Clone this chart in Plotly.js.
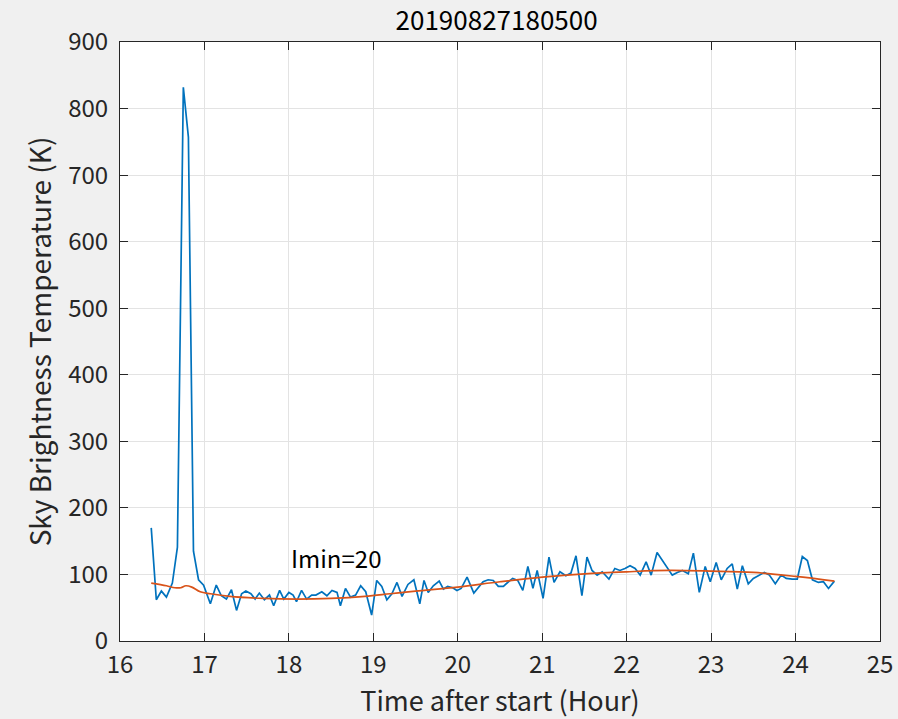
<!DOCTYPE html>
<html>
<head>
<meta charset="utf-8">
<script src="https://cdn.plot.ly/plotly-3.0.1.min.js"></script>
<style>
html,body{margin:0;padding:0;background:#f0f0f0;}
#chart{width:898px;height:719px;}
</style>
</head>
<body>
<div id="chart"></div>
<script>
// Blue series: time (hour) and sky brightness temperature (K)
var timeHours = [
16.37,16.43,16.49,16.55,16.62,16.68,16.75,16.81,16.87,16.93,16.99,17.07,17.14,17.20,17.26,17.32,17.38,
17.44,17.49,17.55,17.60,17.65,17.71,17.77,17.82,17.89,17.94,18.00,18.05,18.09,18.15,18.21,18.27,18.32,
18.39,18.45,18.51,18.57,18.61,18.67,18.73,18.79,18.85,18.91,18.98,19.04,19.10,19.16,19.22,19.28,19.34,
19.41,19.48,19.55,19.60,19.65,19.71,19.78,19.83,19.88,19.94,19.99,20.04,20.11,20.19,20.24,20.30,20.36,
20.42,20.48,20.54,20.60,20.65,20.71,20.77,20.83,20.89,20.94,21.01,21.08,21.14,21.21,21.28,21.34,21.40,
21.47,21.53,21.59,21.65,21.71,21.79,21.86,21.92,21.98,22.04,22.10,22.16,22.23,22.29,22.36,22.43,22.48,
22.54,22.60,22.66,22.73,22.79,22.86,22.93,22.99,23.06,23.12,23.19,23.25,23.31,23.37,23.44,23.50,23.57,
23.63,23.69,23.76,23.83,23.89,23.96,24.02,24.08,24.14,24.20,24.27,24.33,24.39,24.46
];
var skyTemp = [
170,62,75,66,87,141,832,757,135,92,84,56,84,68,63,77,46,
71,75,71,63,72,62,69,53,76,63,73,69,59,76,63,69,69,
74,68,76,73,53,79,66,69,83,74,39,91,82,62,71,88,67,
85,92,56,91,73,83,90,78,82,80,76,79,96,72,79,89,92,
91,82,82,89,94,91,76,112,79,106,64,126,88,104,98,102,128,
68,126,106,99,104,93,109,106,109,113,109,99,119,99,133,119,109,
99,103,106,101,132,73,112,89,118,92,109,116,78,113,86,94,99,
103,99,86,99,94,93,93,127,121,92,88,89,79,90
];
// Orange smoothed series
var smoothTime = [16.37,16.55,16.65,16.72,16.78,16.85,16.95,17.07,17.30,17.70,18.10,18.50,18.90,19.20,19.50,20.00,20.50,21.00,21.50,22.00,22.50,23.00,23.50,24.00,24.46];
var smoothTemp = [87,83,80,80,83,81,74,71,67,64,63,64,67,71,75,81,89,96,101,104,106,105,103,97,90];

var titleText = "20190827180500";
var xTitle = "Time after start (Hour)";
var yTitle = "Sky Brightness Temperature (K)";
var noteText = "Imin=20";
var noteX = 18, noteY = 125;

var font = "'Noto Sans CJK JP', 'Noto Sans', sans-serif";
var axisColor = "#262626";

var traces = [
  {x: timeHours, y: skyTemp, type: "scatter", mode: "lines",
   line: {color: "#0072BD", width: 1.7}, hoverinfo: "skip"},
  {x: smoothTime, y: smoothTemp, type: "scatter", mode: "lines",
   line: {color: "#D95319", width: 1.7, shape: "spline"}, hoverinfo: "skip"}
];

var layout = {
  width: 898, height: 719,
  paper_bgcolor: "#f0f0f0", plot_bgcolor: "#ffffff",
  showlegend: false,
  margin: {l: 120, r: 18, t: 42, b: 78},
  font: {family: font, color: axisColor},
  title: {text: titleText, font: {size: 26, color: "#000"}, x: 0.553, xanchor: "center",
          y: 1 - 21/719, yanchor: "middle", yref: "container"},
  xaxis: {range: [16, 25], dtick: 1, tick0: 16, ticks: "inside", ticklen: 8, tickcolor: axisColor,
          mirror: "ticks", showline: true, linecolor: axisColor, linewidth: 1,
          showgrid: true, gridcolor: "#e3e3e3", zeroline: false,
          ticklabelstandoff: 2,
          tickfont: {size: 24, color: axisColor},
          title: {text: xTitle, font: {size: 27, color: axisColor}, standoff: 0}},
  yaxis: {range: [0, 900], dtick: 100, tick0: 0, ticks: "inside", ticklen: 8, tickcolor: axisColor,
          mirror: "ticks", showline: true, linecolor: axisColor, linewidth: 1,
          showgrid: true, gridcolor: "#e3e3e3", zeroline: false,
          ticklabelstandoff: 6,
          tickfont: {size: 24, color: axisColor},
          title: {text: yTitle, font: {size: 28, color: axisColor}, standoff: 8}},
  annotations: [
    {x: noteX, y: noteY, xref: "x", yref: "y", text: noteText, showarrow: false,
     xanchor: "left", yanchor: "middle", font: {size: 24, color: "#000"}}
  ]
};

Plotly.newPlot("chart", traces, layout, {staticPlot: true, displayModeBar: false});
</script>
</body>
</html>
